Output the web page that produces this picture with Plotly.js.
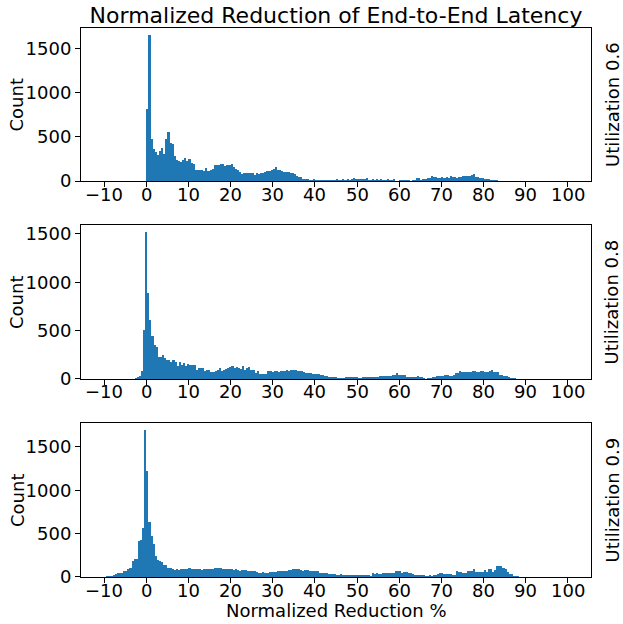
<!DOCTYPE html>
<html>
<head>
<meta charset="utf-8">
<script src="https://cdn.plot.ly/plotly-3.0.1.min.js"></script>
<style>html,body{margin:0;padding:0;background:#fff;}#chart{width:623px;height:624px;}</style>
</head>
<body>
<div id="chart"></div>
<script>
// Histogram counts, bin width 0.5 (%), each panel starts at its own first bin edge
const binWidth = 0.5;

const util06Start = 0.0;
const util06Counts = [
  814, 1646, 470, 360, 325, 295, 340, 368, 305, 470,
  550, 425, 415, 283, 235, 225, 217, 240, 259, 225,
  243, 208, 190, 126, 126, 130, 124, 112, 146, 112,
  124, 135, 180, 180, 180, 191, 191, 165, 180, 180,
  191, 160, 131, 120, 105, 82, 90, 90, 90, 90,
  90, 71, 90, 82, 90, 90, 105, 112, 112, 127,
  135, 157, 127, 120, 110, 105, 100, 97, 92, 85,
  75, 60, 45, 40, 28, 24, 18, 12, 12, 18,
  8, 8, 8, 10, 8, 8, 8, 8, 8, 12,
  18, 17, 17, 18, 17, 18, 17, 22, 37, 26,
  22, 26, 26, 22, 34, 15, 15, 18, 15, 19,
  11, 19, 15, 15, 19, 15, 15, 22, 0, 0,
  11, 11, 8, 11, 11, 0, 8, 8, 30, 30,
  15, 22, 26, 30, 37, 52, 45, 45, 37, 37,
  41, 37, 45, 37, 52, 45, 45, 37, 45, 48,
  52, 56, 60, 56, 64, 75, 50, 45, 34, 30,
  26, 22, 19, 15, 11, 8, 8, 4, 4, 3
];

const util08Start = -3.3;
const util08Counts = [
  3, 8, 17, 28, 87, 503, 1516, 888, 607, 441,
  347, 326, 232, 232, 243, 219, 201, 201, 177, 201,
  180, 139, 174, 149, 167, 132, 160, 142, 146, 146,
  97, 118, 118, 118, 87, 94, 94, 76, 76, 83,
  97, 118, 80, 90, 108, 114, 125, 132, 114, 125,
  114, 104, 135, 90, 114, 121, 97, 90, 66, 80,
  52, 55, 55, 55, 80, 80, 69, 80, 80, 69,
  78,
  85, 85, 88, 85, 92, 95, 90, 85, 82, 78,
  72, 65, 62, 57, 55, 52, 50, 48, 45, 38,
  30, 28, 25, 24, 18, 17, 14, 14, 14, 14,
  17, 17, 18, 24, 22, 20, 14, 15, 24, 22,
  17, 18, 24, 24, 24, 18, 30, 31, 35, 35,
  31, 31, 42, 45, 59, 42, 42, 42, 38, 17,
  24, 17, 24, 24, 31, 17, 17, 7, 0, 10,
  12, 22, 24, 31, 31, 31, 31, 45, 42, 35,
  35, 38, 59, 66, 80, 72, 69, 69, 76, 72,
  83, 83, 76, 76, 80, 85, 69, 76, 83, 90,
  76, 72, 69, 45, 40, 35, 28, 21, 14, 10,
  5, 2
];

const util09Start = -10.0;
const util09Counts = [
  4, 6, 10, 15, 23, 31, 42, 46, 50, 66,
  70, 89, 100, 185, 208, 208, 417, 432, 563, 1690,
  1224, 629, 467, 378, 243, 200, 189, 178, 135, 135,
  108, 104, 96, 85, 93, 85, 89, 89, 89, 93,
  100, 96, 93, 93, 93, 89, 77, 89, 93, 89,
  96, 93, 100, 100, 100, 100, 89, 96, 89, 93,
  93, 81, 93, 77, 73, 81, 77, 77, 69, 66,
  69, 66, 58, 46, 46, 54, 46, 50, 54, 58,
  62, 58, 66, 66, 70, 73, 73, 85, 81, 89,
  89, 89, 89, 81, 73, 77, 77, 66, 66, 66,
  66, 66, 46, 46, 42, 42, 39, 39, 35, 35,
  19, 19, 35, 19, 19, 19, 19, 19, 19, 19,
  19, 19, 19, 19, 19, 19, 12, 42, 31, 42,
  31, 31, 42, 42, 42, 42, 42, 42, 66, 66,
  66, 50, 54, 54, 42, 42, 39, 27, 27, 27,
  19, 19, 12, 12, 19, 12, 19, 19, 31, 42,
  42, 35, 35, 35, 35, 27, 27, 66, 62, 62,
  50, 50, 73, 73, 73, 96, 54, 54, 54, 54,
  77, 54, 93, 93, 54, 85, 124, 124, 124, 108,
  96, 58, 39, 30, 15, 15, 8, 3
];

const panelLabels = ["Utilization 0.6", "Utilization 0.8", "Utilization 0.9"];
const xTicks = [-10, 0, 10, 20, 30, 40, 50, 60, 70, 80, 90, 100];
const yTicks = [0, 500, 1000, 1500];
const chartTitle = "Normalized Reduction of End-to-End Latency";
const xLabel = "Normalized Reduction %";
const yLabel = "Count";

const FONT = "DejaVu Sans, Liberation Sans, sans-serif";
const BLUE = "#1f77b4";
const PLOT_H = 549; // px height of plotting area (paper)

function centers(start, counts) {
  return counts.map((_, i) => start + binWidth * (i + 0.5));
}
function fmt(v) { return v < 0 ? "\u2212" + Math.abs(v) : String(v); }

const series = [
  [util06Start, util06Counts],
  [util08Start, util08Counts],
  [util09Start, util09Counts]
];

const traces = series.map((s, k) => ({
  type: "bar",
  x: centers(s[0], s[1]),
  y: s[1],
  width: binWidth,
  marker: { color: BLUE, line: { width: 0 } },
  xaxis: k === 0 ? "x" : "x" + (k + 1),
  yaxis: k === 0 ? "y" : "y" + (k + 1),
  hoverinfo: "x+y"
}));

const yDomains = [[0.7213, 1.0], [0.3607, 0.6412], [0.0, 0.2805]];

function xAxis(anchor) {
  return {
    domain: [0, 1], anchor: anchor, range: [-15.5, 105.5],
    tickmode: "array", tickvals: xTicks, showticklabels: false,
    ticks: "outside", ticklen: 5, tickwidth: 1, tickcolor: "#000",
    showline: true, mirror: true, linecolor: "#000", linewidth: 1,
    showgrid: false, zeroline: false
  };
}
function yAxis(anchor, dom, counts) {
  return {
    domain: dom, anchor: anchor, range: [0, Math.max(...counts) * 1.05],
    tickmode: "array", tickvals: yTicks,
    ticks: "outside", ticklen: 5, tickwidth: 1, tickcolor: "#000",
    showline: true, mirror: true, linecolor: "#000", linewidth: 1,
    showgrid: false, zeroline: false,
    tickfont: { family: FONT, size: 18, color: "#000" }
  };
}

const annotations = [];
yDomains.forEach((d, k) => {
  const mid = (d[0] + d[1]) / 2;
  const xr = k === 0 ? "x" : "x" + (k + 1);
  xTicks.forEach(t => {
    annotations.push({
      text: fmt(t), xref: xr, yref: "paper", x: t, y: d[0] - 13 / PLOT_H,
      xanchor: "center", yanchor: "middle", showarrow: false, borderpad: 0,
      font: { family: FONT, size: 18, color: "#000" }
    });
  });
  annotations.push({
    text: yLabel, xref: "paper", yref: "paper", x: -0.1255, y: mid,
    xanchor: "center", yanchor: "middle", textangle: -90, showarrow: false,
    font: { family: FONT, size: 18, color: "#000" }
  });
  annotations.push({
    text: panelLabels[k], xref: "paper", yref: "paper", x: 1.042, y: mid,
    xanchor: "center", yanchor: "middle", textangle: -90, showarrow: false,
    font: { family: FONT, size: 18, color: "#000" }
  });
});
annotations.push({
  text: xLabel, xref: "paper", yref: "paper", x: 0.5, y: -33 / PLOT_H,
  xanchor: "center", yanchor: "middle", showarrow: false, borderpad: 0,
  font: { family: FONT, size: 18, color: "#000" }
});

const layout = {
  width: 623, height: 624,
  margin: { l: 81, r: 32, t: 28, b: 47 },
  paper_bgcolor: "#fff", plot_bgcolor: "#fff",
  showlegend: false, bargap: 0,
  title: {
    text: chartTitle, xref: "paper", x: 0.5, xanchor: "center",
    yref: "container", y: 1 - 15 / 624, yanchor: "middle",
    font: { family: FONT, size: 22, color: "#000" }
  },
  xaxis: xAxis("y"), xaxis2: xAxis("y2"), xaxis3: xAxis("y3"),
  yaxis: yAxis("x", yDomains[0], util06Counts),
  yaxis2: yAxis("x2", yDomains[1], util08Counts),
  yaxis3: yAxis("x3", yDomains[2], util09Counts),
  annotations: annotations
};

Plotly.newPlot("chart", traces, layout, { displayModeBar: false, staticPlot: true });
</script>
</body>
</html>
